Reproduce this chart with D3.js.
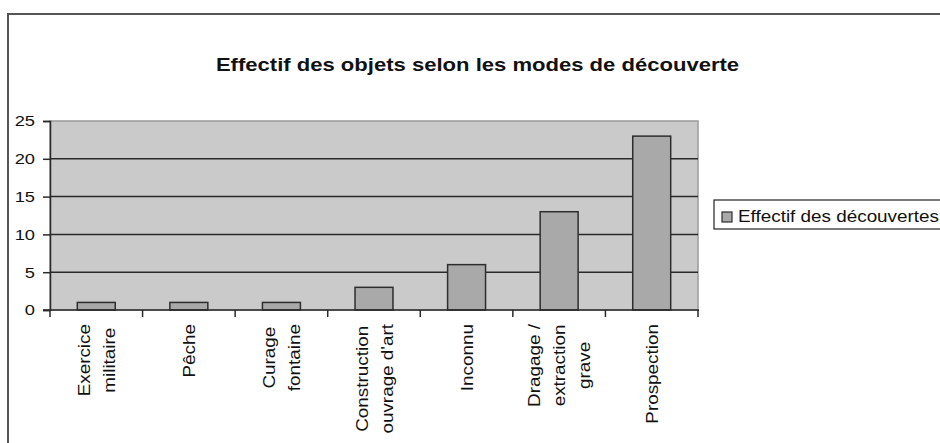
<!DOCTYPE html>
<html>
<head>
<meta charset="utf-8">
<script src="https://cdn.jsdelivr.net/npm/d3@7"></script>
<style>
  body { margin: 0; background: #fff; }
  text { font-family: "Liberation Sans", Arial, sans-serif; fill: #111; }
</style>
</head>
<body>
<div id="graphique"></div>
<script>
// données
const categories = ["Exercice\nmilitaire", "Pêche", "Curage\nfontaine", "Construction\nouvrage d'art", "Inconnu", "Dragage /\nextraction\ngrave", "Prospection"];
const effectifs = [1, 1, 1, 3, 6, 13, 23];
const graduations = [0, 5, 10, 15, 20, 25];
const titre = "Effectif des objets selon les modes de découverte";
const serie = "Effectif des découvertes";

const W = 940, H = 443;
const etir = 1.18; // étirement horizontal du texte
const zone = {gauche: 50, droite: 698, haut: 121, bas: 310};

const svg = d3.select("#graphique").append("svg")
	.attr("width", W)
	.attr("height", H);

svg.append("rect").attr("width", W).attr("height", H).attr("fill", "#fff");

// cadre extérieur
svg.append("rect")
	.attr("x", 8).attr("y", 14)
	.attr("width", 1000).attr("height", 600)
	.attr("fill", "none")
	.attr("stroke", "#555")
	.attr("stroke-width", 2);

const x = d3.scaleBand()
	.domain(categories)
	.range([zone.gauche, zone.droite])
	.paddingInner(0.59)
	.paddingOuter(0.295);

const y = d3.scaleLinear()
	.domain([0, 25])
	.range([zone.bas, zone.haut]);

// fond de la zone de traçage
svg.append("rect")
	.attr("x", zone.gauche).attr("y", zone.haut)
	.attr("width", zone.droite - zone.gauche)
	.attr("height", zone.bas - zone.haut)
	.attr("fill", "#cacaca")
	.attr("stroke", "#9a9a9a")
	.attr("stroke-width", 1.5);

// quadrillage
svg.append("g")
	.selectAll("line")
	.data(graduations.filter(d => d > 0 && d < 25))
	.join("line")
		.attr("x1", zone.gauche).attr("x2", zone.droite)
		.attr("y1", d => y(d)).attr("y2", d => y(d))
		.attr("stroke", "#2a2a2a")
		.attr("stroke-width", 1.5);

// barres
svg.append("g")
	.selectAll("rect")
	.data(effectifs)
	.join("rect")
		.attr("x", (_, i) => x(categories[i]))
		.attr("y", d => y(d))
		.attr("width", x.bandwidth())
		.attr("height", d => y(0) - y(d))
		.attr("fill", "#a9a9a9")
		.attr("stroke", "#2e2e2e")
		.attr("stroke-width", 1.5);

// axe vertical
const axeY = svg.append("g")
	.attr("transform", `translate(${zone.gauche},0)`)
	.call(d3.axisLeft(y).tickValues(graduations).tickSize(7).tickPadding(8));
axeY.select(".domain").attr("stroke", "#2a2a2a").attr("stroke-width", 1.5);
axeY.selectAll(".tick line").attr("stroke", "#2a2a2a").attr("stroke-width", 1.5);
axeY.selectAll(".tick text")
	.attr("x", -15 / etir)
	.attr("transform", `scale(${etir},1)`)
	.style("font-size", "15.5px")
	.style("font-family", '"Liberation Sans", Arial, sans-serif')
	.attr("fill", "#111");

// axe horizontal
const pas = x.step();
const bornes = d3.range(categories.length + 1).map(i => zone.gauche + i * pas);
svg.append("line")
	.attr("x1", zone.gauche - 7).attr("x2", zone.droite + 1)
	.attr("y1", zone.bas).attr("y2", zone.bas)
	.attr("stroke", "#2a2a2a").attr("stroke-width", 1.5);
svg.append("g")
	.selectAll("line")
	.data(bornes)
	.join("line")
		.attr("x1", d => d).attr("x2", d => d)
		.attr("y1", zone.bas).attr("y2", zone.bas + 7)
		.attr("stroke", "#2a2a2a").attr("stroke-width", 1.5);

// étiquettes verticales
const interligne = 25;
categories.forEach(cat => {
	const lignes = cat.split("\n");
	const cx = x(cat) + x.bandwidth() / 2;
	const g = svg.append("g");
	const textes = lignes.map((l, i) => g.append("text")
		.text(l)
		.attr("text-anchor", "middle")
		.style("font-size", "16px"));
	const lmax = d3.max(textes, t => t.node().getComputedTextLength()) * etir;
	const cy = 324 + lmax / 2;
	textes.forEach((t, i) => {
		const bx = cx + (i - (lignes.length - 1) / 2) * interligne + 6;
		t.attr("transform", `translate(${bx},${cy}) rotate(-90) scale(${etir},1)`);
	});
});

// titre
svg.append("text")
	.text(titre)
	.attr("text-anchor", "middle")
	.attr("transform", `translate(477.5,71) scale(${etir},1)`)
	.style("font-size", "18.7px")
	.style("font-weight", "bold");

// légende
svg.append("rect")
	.attr("x", 714).attr("y", 200)
	.attr("width", 300).attr("height", 29)
	.attr("fill", "#fff")
	.attr("stroke", "#222")
	.attr("stroke-width", 1.2);
svg.append("rect")
	.attr("x", 722).attr("y", 212)
	.attr("width", 10).attr("height", 10)
	.attr("fill", "#a9a9a9")
	.attr("stroke", "#2e2e2e")
	.attr("stroke-width", 1.2);
svg.append("text")
	.text(serie)
	.attr("transform", `translate(738,222) scale(${etir},1)`)
	.style("font-size", "16px");
</script>
</body>
</html>
